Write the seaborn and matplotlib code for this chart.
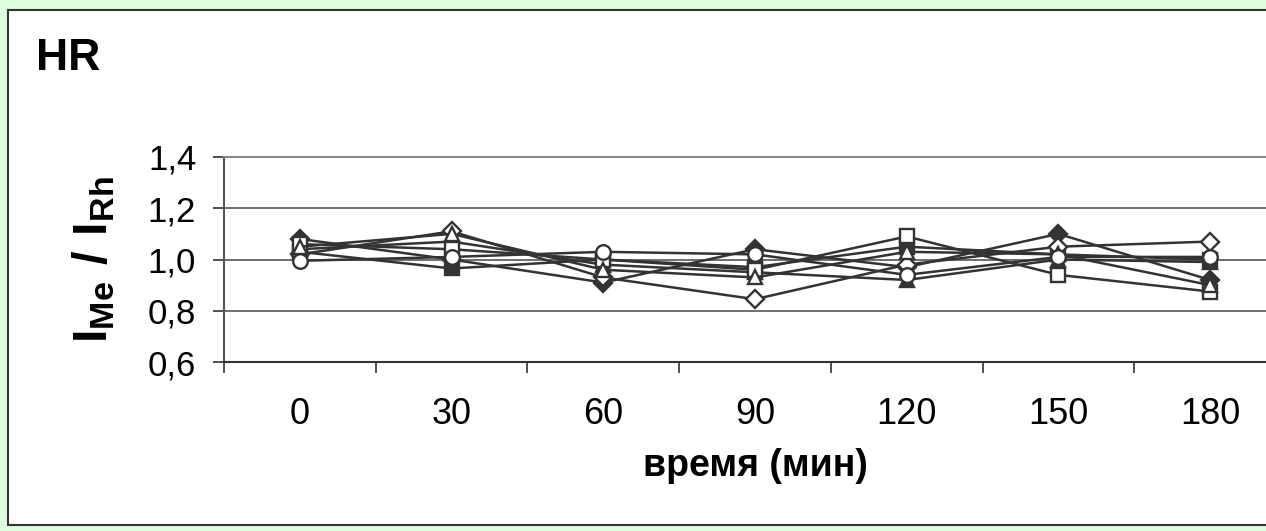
import numpy as np
import pandas as pd
import matplotlib
matplotlib.use('Agg')
import matplotlib.pyplot as plt
from matplotlib.patches import Rectangle
import seaborn as sns

# время (мин)
times = ['0', '30', '60', '90', '120', '150', '180']

# отношения I_Me / I_Rh для каждой серии
s_fdiamond = [1.08, 1.00, 0.91, 1.04, 0.97, 1.10, 0.92]
s_fsquare = [1.03, 0.965, 1.00, 0.97, 1.05, 1.02, 1.00]
s_ftriangle = [1.04, 1.07, 0.98, 0.95, 0.92, 1.00, 0.99]
s_odiamond = [1.02, 1.11, 0.93, 0.845, 0.98, 1.05, 1.07]
s_osquare = [1.06, 1.04, 1.00, 0.96, 1.09, 0.94, 0.875]
s_otriangle = [1.05, 1.10, 0.96, 0.93, 1.03, 1.02, 0.90]
s_ocircle = [0.995, 1.01, 1.03, 1.02, 0.94, 1.01, 1.01]

sns.set_style('ticks')
plt.rcParams['font.family'] = ['Liberation Sans', 'DejaVu Sans']
plt.rcParams['mathtext.fontset'] = 'custom'
plt.rcParams['mathtext.rm'] = 'Liberation Sans'
plt.rcParams['mathtext.bf'] = 'Liberation Sans:bold'
plt.rcParams['text.color'] = 'black'
plt.rcParams['axes.labelcolor'] = 'black'
plt.rcParams['xtick.labelcolor'] = 'black'
plt.rcParams['ytick.labelcolor'] = 'black'

ink = '#333333'
fig = plt.figure(figsize=(12.66, 5.31), dpi=100)
fig.patch.set_facecolor('#ddfddd')

# белая панель с рамкой
fig.patches.append(Rectangle((8 / 1266, 6 / 531), 1.2, 515 / 531, transform=fig.transFigure,
                             facecolor='white', edgecolor='#333333', lw=1.5, zorder=-1))

ax = fig.add_axes([224 / 1266, 169 / 531, 1062 / 1266, 205 / 531])
ax.set_zorder(2)
ax.set_facecolor('white')

x = np.arange(len(times))
series = [
    (s_fdiamond, 'D', ink, 9.5),
    (s_fsquare, 's', ink, 10),
    (s_ftriangle, '^', ink, 10.5),
    (s_odiamond, 'D', 'white', 9.5),
    (s_osquare, 's', 'white', 10),
    (s_otriangle, '^', 'white', 10.5),
    (s_ocircle, 'o', 'white', 10.5),
]
for vals, m, fc, ms in series:
    df = pd.DataFrame({'t': x, 'v': vals})
    sns.lineplot(data=df, x='t', y='v', ax=ax, color=ink, lw=1.8, marker=m,
                 markersize=ms, markerfacecolor=fc, markeredgecolor=ink,
                 markeredgewidth=1.7, zorder=3)

ax.set_xlim(-0.5, 6.5)
ax.set_ylim(0.6, 1.4)
ax.set_yticks([0.6, 0.8, 1.0, 1.2, 1.4])
ax.set_yticklabels(['0,6', '0,8', '1,0', '1,2', '1,4'], fontsize=25)
ax.set_xticks(x)
ax.set_xticklabels(times, fontsize=26)
ax.set_xticks(np.arange(-0.5, 7, 1), minor=True)
ax.tick_params(axis='x', which='major', bottom=False, length=0, pad=25)
ax.tick_params(axis='x', which='minor', bottom=True, length=8, width=1.2, color=ink, direction='out')
ax.tick_params(axis='y', which='major', left=True, length=8, width=1.2, color=ink,
               direction='out', pad=12)
ax.tick_params(axis='y', which='minor', left=False)
ax.grid(False)
for v in [0.8, 1.0, 1.2]:
    ax.axhline(v, color='#555555', lw=1.2, zorder=1)

ax.spines['right'].set_visible(False)
ax.spines['top'].set_visible(True)
ax.spines['top'].set_color('#888888')
ax.spines['top'].set_linewidth(1.5)
ax.spines['left'].set_color('#555555')
ax.spines['left'].set_linewidth(1.5)
ax.spines['bottom'].set_color(ink)
ax.spines['bottom'].set_linewidth(1.5)

ax.set_xlabel('время (мин)', fontsize=27, fontweight='bold', labelpad=12, color='black')
ax.set_ylabel(r'$\mathbf{I_{Me}\ /\ I_{Rh}}$', fontsize=35, color='black')
ax.yaxis.set_label_coords(-0.101, 0.5)

fig.text(36 / 1266, 1 - 70 / 531, 'HR', fontsize=32, fontweight='bold', color='black')

fig.savefig('out.png', dpi=100, facecolor=fig.get_facecolor())
